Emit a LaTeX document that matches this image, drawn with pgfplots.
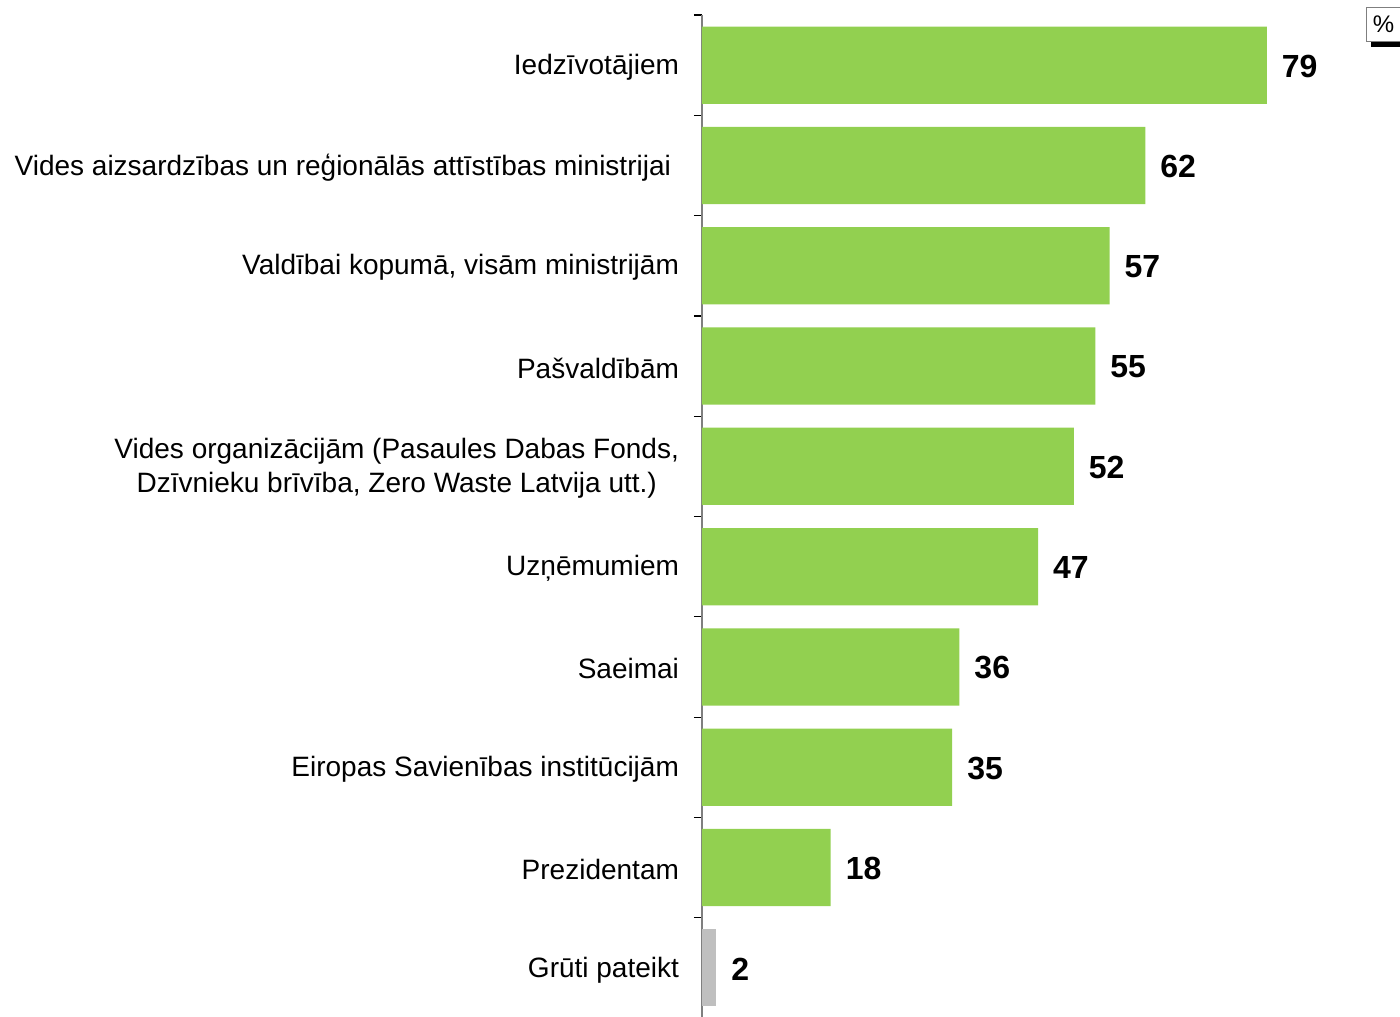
\documentclass[border=0pt]{standalone}
\usepackage{pgfplots}
\pgfplotsset{compat=1.18}
\usepackage{fontspec}
\setmainfont{Liberation Sans}
\definecolor{bargreen}{HTML}{92D050}
\definecolor{bargrey}{HTML}{BFBFBF}
\definecolor{axisgrey}{HTML}{7F7F7F}

\begin{document}
\begin{tikzpicture}[x=0.5pt,y=0.5pt]
\begin{axis}[
  scale only axis, width=321.75pt, height=501.5pt,
  xbar, bar shift=0pt, bar width=0.77,
  xmin=0, xmax=90, ymin=-0.5, ymax=9.5, y dir=reverse,
  axis x line=none, axis y line*=left,
  axis line style={axisgrey, line width=0.8pt},
  ytick={0,...,9}, major tick length=0pt,
  minor ytick={-0.5,0.5,...,8.5}, minor tick length=4pt,
  tick align=outside, minor tick style={black, line width=0.6pt},
  yticklabels={Iedzīvotājiem, Vides aizsardzības un reģionālās attīstības ministrijai\hspace{4pt}, {Valdībai kopumā, visām ministrijām}, Pašvaldībām, {Vides organizācijām (Pasaules Dabas Fonds,\\Dzīvnieku brīvība, Zero Waste Latvija utt.)}, Uzņēmumiem, Saeimai, Eiropas Savienības institūcijām, Prezidentam, Grūti pateikt},
  yticklabel style={font=\fontsize{14}{16.6}\selectfont, align=center, xshift=-8pt, yshift=-1pt},
  nodes near coords, point meta=x,
  nodes near coords style={font=\fontsize{16}{18}\selectfont\bfseries, anchor=west, xshift=4pt, yshift=-0.5pt, /pgf/number format/assume math mode=true},
  clip=false,
]
\addplot[fill=bargreen, draw=none] coordinates {(79,0) (62,1) (57,2) (55,3) (52,4) (47,5) (36,6) (35,7) (18,8)};
\addplot[fill=bargrey, draw=none] coordinates {(2,9)};
\end{axis}
\fill[black] (669,971) rectangle (702,976);
\node[draw=axisgrey, fill=white, line width=0.6pt, minimum width=17pt, minimum height=17pt, inner sep=1pt, font=\fontsize{12}{14}\selectfont, anchor=north west] at (664,1011) {\%};
\pgfresetboundingbox
\path[use as bounding box] (-702,2) rectangle (698,1018);
\end{tikzpicture}
\end{document}
